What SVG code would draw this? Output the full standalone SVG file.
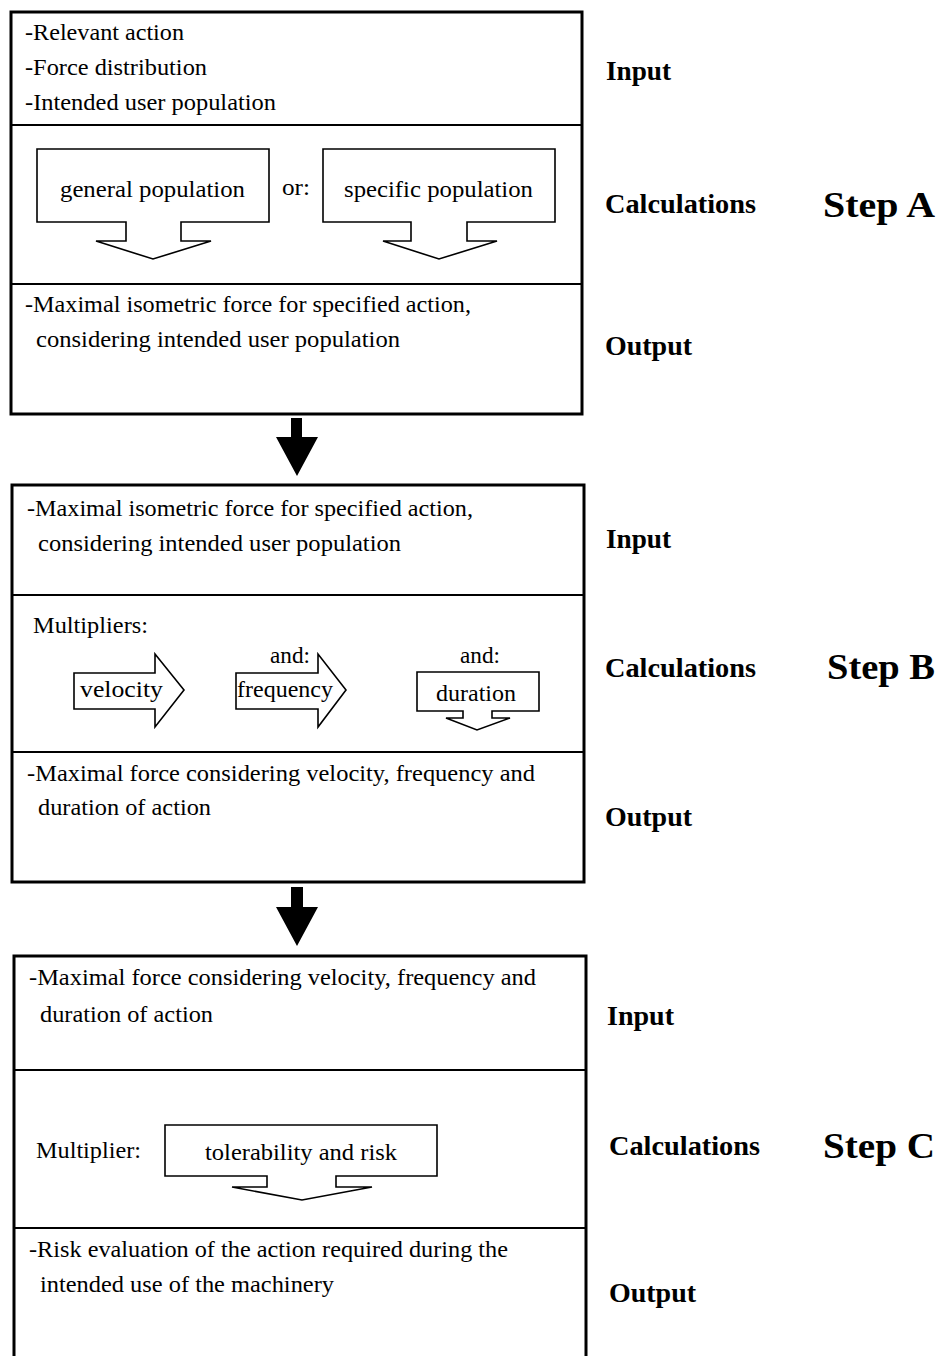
<svg xmlns="http://www.w3.org/2000/svg" width="940" height="1356" viewBox="0 0 940 1356">
<style>
.frame{fill:none;stroke:#000;stroke-width:3}
.div{fill:none;stroke:#000;stroke-width:2}
.shape{fill:#fff;stroke:#000;stroke-width:1.6;stroke-linejoin:miter}
.t{font-family:"Liberation Serif","Times New Roman",serif;font-size:23px;fill:#000}
.lab{font-family:"Liberation Serif","Times New Roman",serif;font-size:27px;font-weight:bold;fill:#000}
.step{font-family:"Liberation Serif","Times New Roman",serif;font-size:36px;font-weight:bold;fill:#000}
.big{fill:#000;stroke:none}
</style>
<rect width="940" height="1356" fill="#fff"/>

<g id="stepA">
  <rect class="frame" x="11" y="12" width="571" height="402"/>
  <line class="div" x1="11" y1="125" x2="582" y2="125"/>
  <line class="div" x1="11" y1="284" x2="582" y2="284"/>
  <text class="t" x="25" y="40" textLength="159" lengthAdjust="spacingAndGlyphs">-Relevant action</text>
  <text class="t" x="25" y="75" textLength="182" lengthAdjust="spacingAndGlyphs">-Force distribution</text>
  <text class="t" x="25" y="110" textLength="251" lengthAdjust="spacingAndGlyphs">-Intended user population</text>
  <g id="generalPopulation">
    <path class="shape" d="M37,149 H269 V222 H181 V241 H211 L153,259 L96,241 H126 V222 H37 Z"/>
    <text class="t" x="60" y="197" textLength="185" lengthAdjust="spacingAndGlyphs">general population</text>
  </g>
  <text class="t" x="282" y="195" textLength="28" lengthAdjust="spacingAndGlyphs">or:</text>
  <g id="specificPopulation">
    <path class="shape" d="M323,149 H555 V222 H467 V241 H497 L439,259 L383,241 H411 V222 H323 Z"/>
    <text class="t" x="344" y="197" textLength="189" lengthAdjust="spacingAndGlyphs">specific population</text>
  </g>
  <text class="t" x="25" y="312" textLength="446" lengthAdjust="spacingAndGlyphs">-Maximal isometric force for specified action,</text>
  <text class="t" x="36" y="347" textLength="364" lengthAdjust="spacingAndGlyphs">considering intended user population</text>
  <text class="lab" x="606" y="80" textLength="65" lengthAdjust="spacingAndGlyphs">Input</text>
  <text class="lab" x="605" y="213" textLength="151" lengthAdjust="spacingAndGlyphs">Calculations</text>
  <text class="lab" x="605" y="355" textLength="87" lengthAdjust="spacingAndGlyphs">Output</text>
  <text class="step" x="823" y="217" textLength="112" lengthAdjust="spacingAndGlyphs">Step A</text>
</g>

<g id="stepB">
  <rect class="frame" x="12" y="485" width="572" height="397"/>
  <line class="div" x1="12" y1="595" x2="584" y2="595"/>
  <line class="div" x1="12" y1="752" x2="584" y2="752"/>
  <text class="t" x="27" y="516" textLength="446" lengthAdjust="spacingAndGlyphs">-Maximal isometric force for specified action,</text>
  <text class="t" x="38" y="551" textLength="363" lengthAdjust="spacingAndGlyphs">considering intended user population</text>
  <text class="t" x="33" y="633" textLength="115" lengthAdjust="spacingAndGlyphs">Multipliers:</text>
  <g id="velocity">
    <path class="shape" d="M74,673 H155 V654 L184,690 L155,727 V709 H74 Z"/>
    <text class="t" x="80" y="697" textLength="83" lengthAdjust="spacingAndGlyphs">velocity</text>
  </g>
  <text class="t" x="270" y="663" textLength="40" lengthAdjust="spacingAndGlyphs">and:</text>
  <g id="frequency">
    <path class="shape" d="M236,673 H318 V654 L346,690 L318,727 V709 H236 Z"/>
    <text class="t" x="237" y="697" textLength="96" lengthAdjust="spacingAndGlyphs">frequency</text>
  </g>
  <text class="t" x="460" y="663" textLength="40" lengthAdjust="spacingAndGlyphs">and:</text>
  <g id="duration">
    <path class="shape" d="M417,672 H539 V711 H492 V718 H510 L477,730 L446,718 H463 V711 H417 Z"/>
    <text class="t" x="436" y="701" textLength="80" lengthAdjust="spacingAndGlyphs">duration</text>
  </g>
  <text class="t" x="27" y="781" textLength="508" lengthAdjust="spacingAndGlyphs">-Maximal force considering velocity, frequency and</text>
  <text class="t" x="38" y="815" textLength="173" lengthAdjust="spacingAndGlyphs">duration of action</text>
  <text class="lab" x="606" y="548" textLength="65" lengthAdjust="spacingAndGlyphs">Input</text>
  <text class="lab" x="605" y="677" textLength="151" lengthAdjust="spacingAndGlyphs">Calculations</text>
  <text class="lab" x="605" y="826" textLength="87" lengthAdjust="spacingAndGlyphs">Output</text>
  <text class="step" x="827" y="679" textLength="108" lengthAdjust="spacingAndGlyphs">Step B</text>
</g>

<g id="stepC">
  <rect class="frame" x="14" y="956" width="572" height="420"/>
  <line class="div" x1="14" y1="1070" x2="586" y2="1070"/>
  <line class="div" x1="14" y1="1228" x2="586" y2="1228"/>
  <text class="t" x="29" y="985" textLength="507" lengthAdjust="spacingAndGlyphs">-Maximal force considering velocity, frequency and</text>
  <text class="t" x="40" y="1022" textLength="173" lengthAdjust="spacingAndGlyphs">duration of action</text>
  <text class="t" x="36" y="1158" textLength="105" lengthAdjust="spacingAndGlyphs">Multiplier:</text>
  <g id="tolerability">
    <path class="shape" d="M165,1125 H437 V1176 H336 V1187 H372 L302,1200 L232,1187 H267 V1176 H165 Z"/>
    <text class="t" x="205" y="1160" textLength="192" lengthAdjust="spacingAndGlyphs">tolerability and risk</text>
  </g>
  <text class="t" x="29" y="1257" textLength="479" lengthAdjust="spacingAndGlyphs">-Risk evaluation of the action required during the</text>
  <text class="t" x="40" y="1292" textLength="294" lengthAdjust="spacingAndGlyphs">intended use of the machinery</text>
  <text class="lab" x="607" y="1025" textLength="67" lengthAdjust="spacingAndGlyphs">Input</text>
  <text class="lab" x="609" y="1155" textLength="151" lengthAdjust="spacingAndGlyphs">Calculations</text>
  <text class="lab" x="609" y="1302" textLength="87" lengthAdjust="spacingAndGlyphs">Output</text>
  <text class="step" x="823" y="1158" textLength="112" lengthAdjust="spacingAndGlyphs">Step C</text>
</g>

<g id="connectors">
  <polygon class="big" points="291,418 302,418 302,437 318,437 297,476 276,437 291,437"/>
  <polygon class="big" points="291,887 303,887 303,907 318,907 297,946 276,907 291,907"/>
</g>
</svg>
